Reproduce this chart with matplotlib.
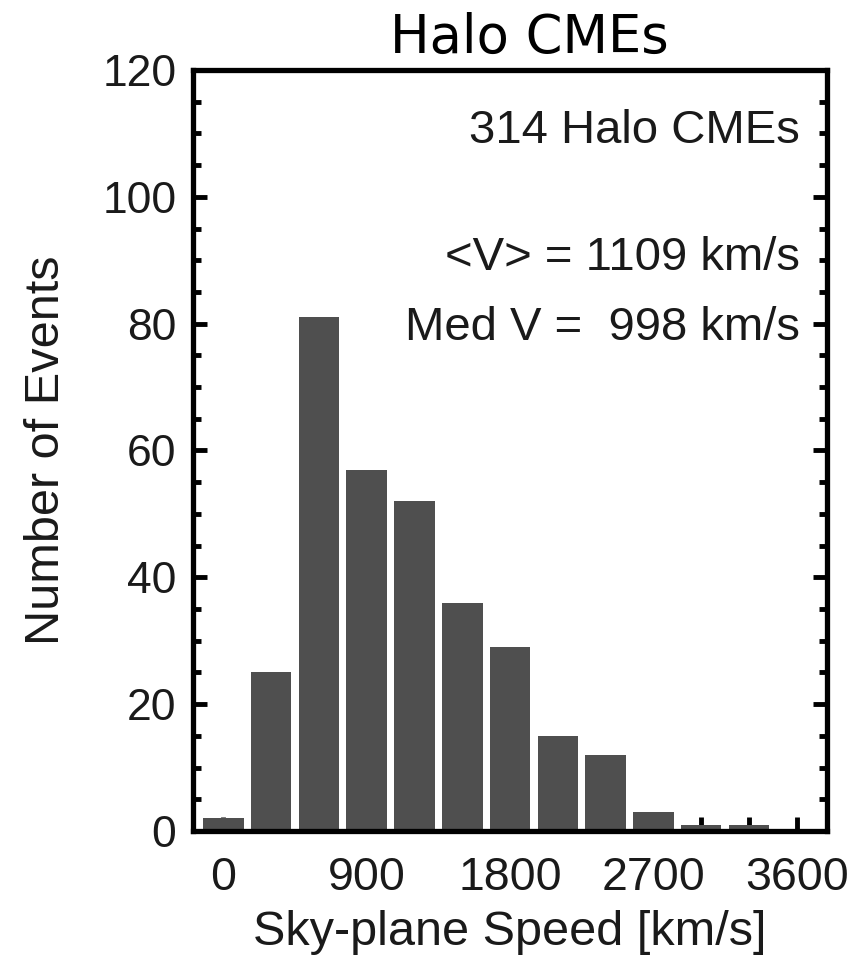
import matplotlib.pyplot as plt
import numpy as np

# histogram of halo CME sky-plane speeds (bin centres every 300 km/s)
bin_centers = [0, 300, 600, 900, 1200, 1500, 1800, 2100, 2400, 2700, 3000, 3300]
counts = [2, 25, 81, 57, 52, 36, 29, 15, 12, 3, 1, 1]
x_ticks = [0, 900, 1800, 2700, 3600]
y_ticks = [0, 20, 40, 60, 80, 100, 120]
notes = ["314 Halo CMEs", "<V> = 1109 km/s", "Med V =  998 km/s"]

plt.rcParams["font.family"] = ["Liberation Sans", "DejaVu Sans"]

fig = plt.figure(figsize=(8.66, 9.6), dpi=100)
ax = fig.add_axes([0.2229, 0.1344, 0.7321, 0.7927])

ax.bar(bin_centers, counts, width=255, color="#4f4f4f", zorder=2)

ax.set_xlim(-190, 3790)
ax.set_ylim(0, 120)
ax.set_xticks(x_ticks)
ax.set_xticks(np.arange(0, 3601, 300), minor=True)
ax.set_yticks(y_ticks)
ax.set_yticks(np.arange(0, 121, 5), minor=True)

ax.tick_params(axis="both", which="both", direction="in", width=3.5, color="black")
ax.tick_params(axis="x", which="both", length=10, top=False, pad=18, labelsize=33.5)
ax.tick_params(axis="y", which="major", length=10, right=True, pad=12, labelsize=32)
ax.tick_params(axis="y", which="minor", length=6, right=True)
for lab in ax.get_xticklabels() + ax.get_yticklabels():
    lab.set_color("#1a1a1a")

for sp in ax.spines.values():
    sp.set_linewidth(3.8)
    sp.set_zorder(5)

ax.set_xlabel("Sky-plane Speed [km/s]", fontsize=35, color="#1a1a1a", labelpad=7)
ax.set_ylabel("Number of Events", fontsize=35, color="#1a1a1a", labelpad=24)

note_y = [0.920, 0.753, 0.661]
for txt, yy in zip(notes, note_y):
    ax.text(0.957, yy, txt, transform=ax.transAxes, ha="right", va="center",
            fontsize=34, color="#1a1a1a")

fig.text(0.611, 0.961, "Halo CMEs", ha="center", va="center",
         fontsize=38, family="DejaVu Sans", color="black")

fig.savefig("out.png", dpi=100)
